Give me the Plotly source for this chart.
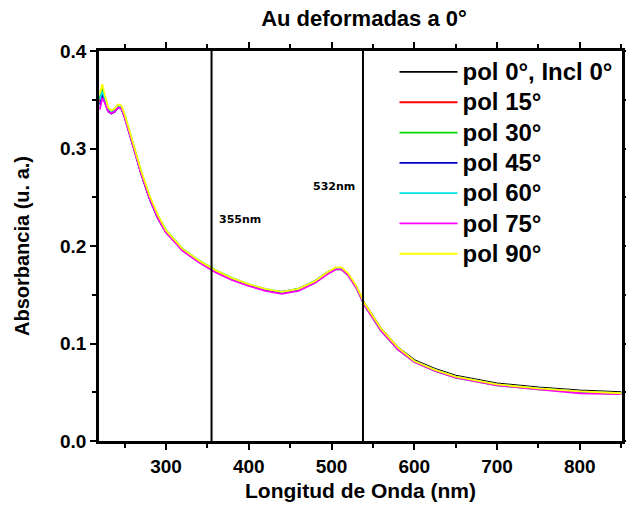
import plotly.graph_objects as go

wavelength = [220, 223, 226, 230, 234, 238, 242, 246, 250, 260, 270, 280, 290, 300,
              320, 340, 360, 380, 400, 420, 440, 460, 480, 495, 505, 512, 520, 530,
              540, 560, 580, 600, 625, 650, 700, 750, 800, 850]

pol_0 = [0.350, 0.358, 0.350, 0.339, 0.336, 0.338, 0.342, 0.342, 0.333, 0.305, 0.274, 0.249,
         0.229, 0.214, 0.196, 0.184, 0.174, 0.166, 0.160, 0.155, 0.153, 0.156, 0.164, 0.173,
         0.177, 0.177, 0.171, 0.158, 0.141, 0.115, 0.096, 0.083, 0.074, 0.067, 0.059, 0.055,
         0.052, 0.050]
pol_15 = [0.348, 0.360, 0.351, 0.340, 0.337, 0.339, 0.343, 0.342, 0.333, 0.305, 0.275, 0.250,
          0.230, 0.215, 0.196, 0.184, 0.174, 0.166, 0.160, 0.155, 0.152, 0.155, 0.163, 0.172,
          0.177, 0.177, 0.171, 0.158, 0.140, 0.114, 0.095, 0.082, 0.073, 0.066, 0.058, 0.054,
          0.051, 0.049]
pol_30 = [0.352, 0.361, 0.352, 0.341, 0.338, 0.340, 0.344, 0.343, 0.334, 0.306, 0.276, 0.251,
          0.231, 0.216, 0.197, 0.185, 0.175, 0.167, 0.160, 0.155, 0.152, 0.155, 0.163, 0.172,
          0.176, 0.176, 0.170, 0.157, 0.139, 0.113, 0.094, 0.081, 0.072, 0.065, 0.057, 0.053,
          0.050, 0.048]
pol_45 = [0.345, 0.355, 0.348, 0.338, 0.336, 0.338, 0.342, 0.341, 0.332, 0.304, 0.274, 0.249,
          0.229, 0.215, 0.196, 0.184, 0.174, 0.166, 0.160, 0.155, 0.152, 0.155, 0.163, 0.172,
          0.177, 0.177, 0.171, 0.158, 0.140, 0.114, 0.095, 0.082, 0.073, 0.066, 0.058, 0.054,
          0.050, 0.049]
pol_60 = [0.350, 0.359, 0.351, 0.341, 0.338, 0.340, 0.344, 0.343, 0.334, 0.306, 0.276, 0.251,
          0.231, 0.216, 0.197, 0.185, 0.175, 0.167, 0.161, 0.156, 0.153, 0.156, 0.164, 0.173,
          0.177, 0.177, 0.171, 0.158, 0.140, 0.114, 0.095, 0.082, 0.073, 0.066, 0.058, 0.054,
          0.051, 0.049]
pol_75 = [0.340, 0.352, 0.347, 0.338, 0.336, 0.338, 0.342, 0.341, 0.332, 0.304, 0.274, 0.249,
          0.229, 0.214, 0.195, 0.183, 0.173, 0.165, 0.159, 0.154, 0.151, 0.154, 0.162, 0.171,
          0.176, 0.176, 0.170, 0.157, 0.139, 0.113, 0.094, 0.081, 0.072, 0.065, 0.057, 0.053,
          0.049, 0.048]
pol_90 = [0.356, 0.366, 0.355, 0.342, 0.339, 0.341, 0.345, 0.344, 0.335, 0.307, 0.277, 0.252,
          0.232, 0.216, 0.197, 0.185, 0.175, 0.167, 0.161, 0.156, 0.153, 0.156, 0.164, 0.173,
          0.178, 0.178, 0.172, 0.159, 0.141, 0.115, 0.096, 0.082, 0.073, 0.066, 0.058, 0.054,
          0.051, 0.049]

series_names = ["pol 0°, Incl 0°", "pol 15°", "pol 30°", "pol 45°", "pol 60°", "pol 75°", "pol 90°"]
series_values = [pol_0, pol_15, pol_30, pol_45, pol_60, pol_75, pol_90]
series_colors = ["#000000", "#ff0000", "#00dd00", "#0000cc", "#00e5e5", "#ff00ff", "#ffff00"]

marker_lines = [355, 538]
marker_labels = ["355nm", "532nm"]
marker_label_pos = [(361, 0.227), (475, 0.261)]

FONT = "Liberation Sans, Arial, sans-serif"

fig = go.Figure()
for name, vals, col in zip(series_names, series_values, series_colors):
    fig.add_trace(go.Scatter(x=wavelength, y=vals, mode="lines",
                             name="<span style='font-size:24px'>" + name + "</span>",
                             line=dict(color=col, width=1.8)))

for xv in marker_lines:
    fig.add_shape(type="line", x0=xv, x1=xv, y0=0, y1=0.4, xref="x", yref="y",
                  line=dict(color="black", width=2))

for lab, (lx, ly) in zip(marker_labels, marker_label_pos):
    fig.add_annotation(x=lx, y=ly, text=lab, showarrow=False, xanchor="left", yanchor="middle",
                       font=dict(family="DejaVu Sans, sans-serif", size=11, color="black", weight="bold"))

axis_common = dict(showline=True, linecolor="black", linewidth=2.5, mirror="allticks",
                   ticks="outside", ticklen=6, tickwidth=2, tickcolor="black",
                   showgrid=False, zeroline=False, automargin=False,
                   tickfont=dict(family=FONT, size=19, color="black", weight="bold"))

fig.update_xaxes(range=[219, 851], tickvals=[300, 400, 500, 600, 700, 800],
                 minor=dict(ticks="outside", ticklen=4, tickwidth=2, tickcolor="black", dtick=50, tick0=0),
                 title=dict(text="Longitud de Onda (nm)", standoff=8,
                            font=dict(family=FONT, size=21, color="black", weight="bold")),
                 **axis_common)
fig.update_yaxes(range=[0, 0.4], tickvals=[0.0, 0.1, 0.2, 0.3, 0.4], tickformat=".1f",
                 minor=dict(ticks="outside", ticklen=4, tickwidth=2, tickcolor="black", dtick=0.05, tick0=0),
                 title=dict(text="Absorbancia (u. a.)", standoff=26,
                            font=dict(family=FONT, size=20, color="black", weight="bold")),
                 **axis_common)

fig.update_layout(
    width=626, height=508,
    margin=dict(l=99, r=4, t=51, b=67),
    paper_bgcolor="white", plot_bgcolor="white",
    title=dict(text="Au deformadas a 0°", x=364 / 626, xanchor="center", y=1 - 18 / 508, yanchor="middle",
               font=dict(family=FONT, size=22, color="black", weight="bold")),
    legend=dict(x=0.565, y=0.998, xanchor="left", yanchor="top", bgcolor="rgba(0,0,0,0)",
                font=dict(family=FONT, size=21, color="black", weight="bold"),
                itemwidth=58, tracegroupgap=0),
    showlegend=True,
)

fig.write_html("out.html")
